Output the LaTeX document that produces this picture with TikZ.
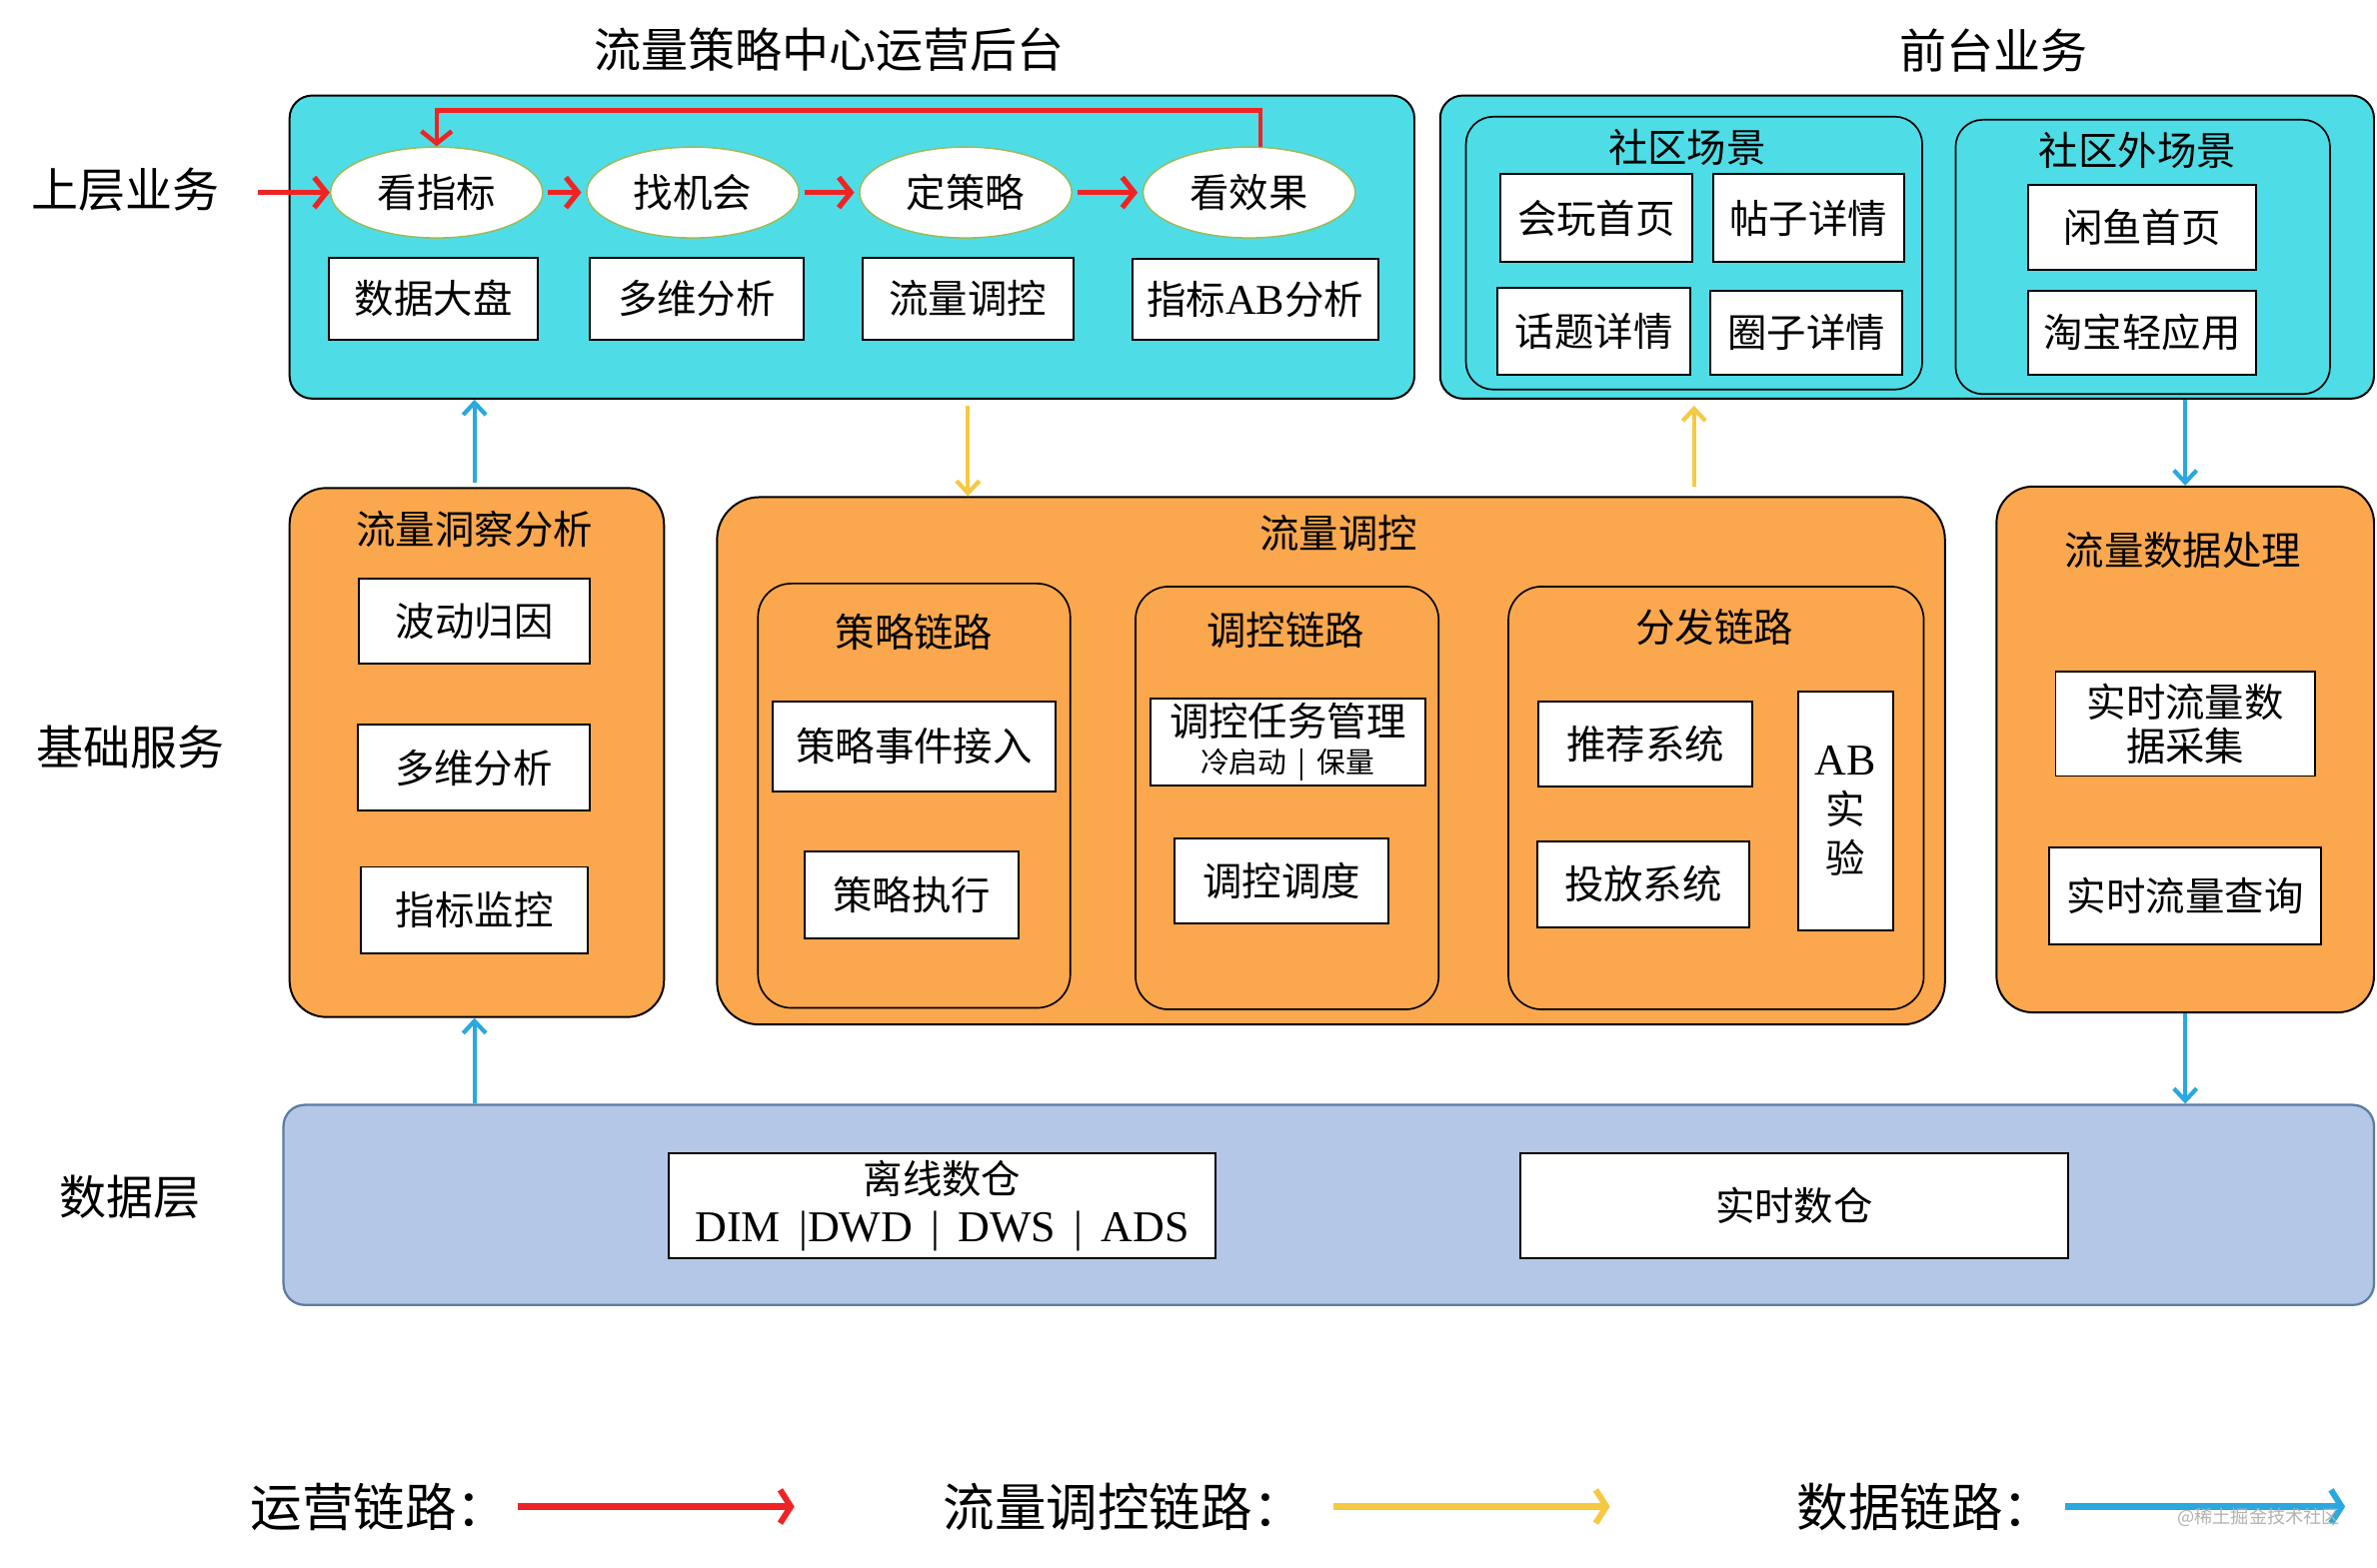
\documentclass[tikz,border=0pt]{standalone}
\usepackage{fontspec}
\setmainfont{Noto Sans CJK SC}
\newfontfamily\latin{Liberation Serif}
\usetikzlibrary{arrows.meta}
\usetikzlibrary{shapes.geometric}

\definecolor{opscyan}{RGB}{78,221,230}
\definecolor{svcorange}{RGB}{250,167,78}
\definecolor{datablue}{RGB}{180,199,231}
\definecolor{databorder}{RGB}{92,124,163}
\definecolor{redlink}{RGB}{238,36,36}
\definecolor{yellowlink}{RGB}{245,202,66}
\definecolor{bluelink}{RGB}{42,168,224}
\definecolor{phaseline}{RGB}{155,187,89}

\tikzset{
  title/.style={inner sep=0pt, font=\fontsize{31}{34}\selectfont},
  paneltitle/.style={inner sep=0pt, font=\fontsize{26}{30}\selectfont},
  cyanpanel/.style={draw=black, line width=1.3pt, fill=opscyan, rounded corners=15pt, inner sep=0pt},
  orangepanel/.style={draw=black, line width=1.3pt, fill=svcorange, rounded corners=24pt, inner sep=0pt},
  subpanel/.style={draw=black, line width=1.1pt, rounded corners=22pt, inner sep=0pt},
  datapanel/.style={draw=databorder, line width=1.5pt, fill=datablue, rounded corners=14pt, inner sep=0pt},
  box/.style={draw=black, line width=1.3pt, fill=white, inner sep=0pt, align=center,
    font=\fontsize{26}{29}\selectfont},
  phase/.style={ellipse, draw=phaseline, line width=1pt, fill=white, inner sep=0pt,
    minimum width=140pt, minimum height=60pt, font=\fontsize{26}{29}\selectfont},
  oplink/.style={draw=redlink, line width=3.5pt, -{Straight Barb[length=8pt,width=20pt]}},
  ctllink/.style={draw=yellowlink, line width=2.8pt, -{Straight Barb[length=8pt,width=15pt]}},
  datalink/.style={draw=bluelink, line width=2.8pt, -{Straight Barb[length=8pt,width=15pt]}},
  legendtext/.style={inner sep=0pt, anchor=west, font=\fontsize{34}{36}\selectfont},
}

\begin{document}
\begin{tikzpicture}[x=1pt,y=-1pt]
  \path[use as bounding box, fill=white] (0,0) rectangle (1568,1034);

  % Titles and layers
  \node[title] (optitle)    at (547,33)  {流量策略中心运营后台};
  \node[title] (fronttitle) at (1315,33) {前台业务};
  \node[title] (layertop)   at (83,125)  {上层业务};
  \node[title] (layermid)   at (86,493)  {基础服务};
  \node[title] (layerdata)  at (86,790)  {数据层};

  % Ops backend
  \node[cyanpanel, minimum width=742pt, minimum height=200pt] (ops) at (562,163) {};
  \node[phase] (look)   at (288,127) {看指标};
  \node[phase] (chance) at (457,127) {找机会};
  \node[phase] (plan)   at (637,127) {定策略};
  \node[phase] (effect) at (824,127) {看效果};
  \node[box, minimum width=138pt, minimum height=54pt] (board)  at (286,197)   {数据大盘};
  \node[box, minimum width=141pt, minimum height=54pt] (multi)  at (459.5,197) {多维分析};
  \node[box, minimum width=139pt, minimum height=54pt] (tune)   at (638.5,197) {流量调控};
  \node[box, minimum width=162pt, minimum height=53pt] (abview) at (828,197.5) {指标{\latin\fontsize{28}{29}\selectfont AB}分析};

  % Front business
  \node[cyanpanel, minimum width=616pt, minimum height=200pt] (front) at (1258,163) {};
  \node[subpanel, minimum width=301pt, minimum height=180pt, rounded corners=18pt] (community) at (1117.5,167) {};
  \node[paneltitle] (communitytitle) at (1113,97) {社区场景};
  \node[box, minimum width=126pt, minimum height=58pt] (home)   at (1053,144)     {会玩首页};
  \node[box, minimum width=126pt, minimum height=58pt] (post)   at (1193,144)     {帖子详情};
  \node[box, minimum width=127pt, minimum height=57pt] (topic)  at (1051.5,218.5) {话题详情};
  \node[box, minimum width=127pt, minimum height=55pt] (circle) at (1191.5,219.5) {圈子详情};
  \node[subpanel, minimum width=247pt, minimum height=181pt, rounded corners=18pt] (outside) at (1413.5,169.5) {};
  \node[paneltitle] (outsidetitle) at (1410,99) {社区外场景};
  \node[box, minimum width=150pt, minimum height=56pt] (xianyu) at (1413,150)   {闲鱼首页};
  \node[box, minimum width=150pt, minimum height=55pt] (taobao) at (1413,219.5) {淘宝轻应用};

  % Insight
  \node[orangepanel, minimum width=247pt, minimum height=349pt] (insight) at (314.5,496.5) {};
  \node[paneltitle] (insighttitle) at (313,349) {流量洞察分析};
  \node[box, minimum width=152pt, minimum height=56pt] (wave)    at (313,410)   {波动归因};
  \node[box, minimum width=153pt, minimum height=57pt] (dims)    at (312.5,506.5) {多维分析};
  \node[box, minimum width=150pt, minimum height=57pt] (monitor) at (313,600.5) {指标监控};

  % Traffic control
  \node[orangepanel, minimum width=810pt, minimum height=348pt, rounded corners=28pt] (control) at (878,502) {};
  \node[paneltitle] (controltitle) at (883,352) {流量调控};
  \node[subpanel, minimum width=206pt, minimum height=280pt] (strategy) at (603,525) {};
  \node[paneltitle] (strategytitle) at (603,417) {策略链路};
  \node[box, minimum width=186pt, minimum height=59pt] (event) at (603,492.5)   {策略事件接入};
  \node[box, minimum width=141pt, minimum height=57pt] (exec)  at (601.5,590.5) {策略执行};
  \node[subpanel, minimum width=200pt, minimum height=279pt] (regulate) at (849,526.5) {};
  \node[paneltitle] (regulatetitle) at (848,416) {调控链路};
  \node[box, minimum width=181pt, minimum height=57pt] (task) at (849.5,489.5)
    {调控任务管理\\[-4pt]{\fontsize{19}{21}\selectfont 冷启动 \,|\, 保量}};
  \node[box, minimum width=141pt, minimum height=56pt] (sched) at (845.5,581) {调控调度};
  \node[subpanel, minimum width=274pt, minimum height=279pt] (dispatch) at (1132,526.5) {};
  \node[paneltitle] (dispatchtitle) at (1131,414) {分发链路};
  \node[box, minimum width=141pt, minimum height=56pt] (recsys) at (1085.5,491) {推荐系统};
  \node[box, minimum width=140pt, minimum height=57pt] (adsys)  at (1084,583.5) {投放系统};
  \node[box, minimum width=63pt, minimum height=158pt, font=\fontsize{26}{32}\selectfont] (abtest) at (1217.5,535)
    {{\latin\fontsize{29}{32}\selectfont AB}\\实\\验};

  % Data processing
  \node[orangepanel, minimum width=249pt, minimum height=347pt] (dataproc) at (1441.5,494.5) {};
  \node[paneltitle] (dataproctitle) at (1440,363) {流量数据处理};
  \node[box, minimum width=171pt, minimum height=69pt] (collect) at (1441.5,477.5) {实时流量数\\据采集};
  \node[box, minimum width=179pt, minimum height=64pt] (query)   at (1441.5,591)   {实时流量查询};

  % Data layer
  \node[datapanel, minimum width=1379pt, minimum height=132pt] (data) at (876.5,795) {};
  \node[box, minimum width=361pt, minimum height=69pt, font=\fontsize{26}{32}\selectfont] (offline) at (621.5,795.5)
    {离线数仓\\{\latin\fontsize{29}{32}\selectfont DIM \,|DWD \,| \,DWS \,| \,ADS}};
  \node[box, minimum width=361pt, minimum height=69pt] (realtime) at (1183.5,795.5) {实时数仓};

  % Ops links
  \coordinate (opsin) at (170,127);
  \coordinate (loop) at (560,73);
  \draw[oplink] (opsin) -- (look);
  \draw[oplink, shorten <=3pt, shorten >=3pt] (look) -- (chance);
  \draw[oplink, shorten <=3pt, shorten >=3pt] (chance) -- (plan);
  \draw[oplink, shorten <=3pt, shorten >=3pt] (plan) -- (effect);
  \draw[oplink, line width=3pt] (effect.76) |- (loop) -| (look.north);

  % Control and data links
  \draw[datalink, shorten <=3pt] (wave |- insight.north) -- (wave |- ops.south);
  \draw[ctllink, shorten <=4pt] (tune |- ops.south) -- (tune |- control.north);
  \draw[ctllink, shorten <=6pt, shorten >=4pt] (community |- control.north) -- (community |- front.south);
  \draw[datalink] (dataproc |- front.south) -- (dataproc.north);
  \draw[datalink] (wave |- data.north) -- (wave |- insight.south);
  \draw[datalink] (dataproc.south) -- (dataproc |- data.north);

  % Legend
  \node[legendtext] (lgops)  at (165,994)  {运营链路：};
  \node[legendtext] (lgctl)  at (622,994)  {流量调控链路：};
  \node[legendtext] (lgdata) at (1185,994) {数据链路：};
  \coordinate (lgopsend)  at (524,994);
  \coordinate (lgctlend)  at (1062,994);
  \coordinate (lgdataend) at (1547,994);
  \draw[oplink, line width=4pt, -{Straight Barb[length=7pt,width=22pt]}] ([xshift=6pt]lgops.east) -- (lgopsend);
  \draw[ctllink, line width=4pt, -{Straight Barb[length=7pt,width=22pt]}] ([xshift=19pt]lgctl.east) -- (lgctlend);
  \draw[datalink, line width=4pt, -{Straight Barb[length=7pt,width=22pt]}] ([xshift=7pt]lgdata.east) -- (lgdataend);
  \node[inner sep=0pt, text=gray!60, font=\fontsize{12}{12}\selectfont] (watermark) at (1490,1001) {@稀土掘金技术社区};
\end{tikzpicture}
\end{document}
